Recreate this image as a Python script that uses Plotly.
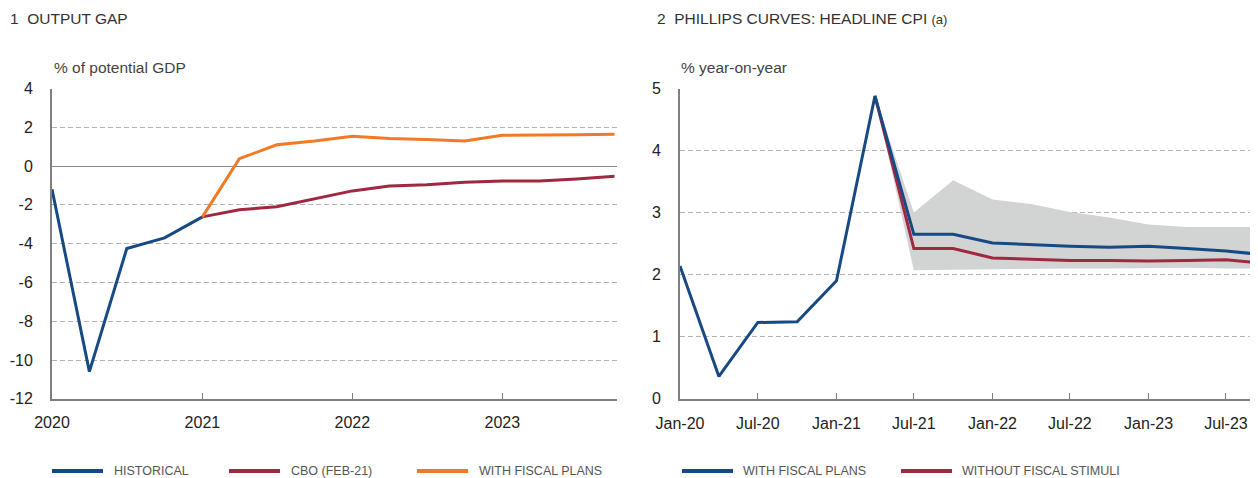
import plotly.graph_objects as go

# chart 1: output gap, quarterly
gap_hist_q = ["2020-01-01", "2020-04-01", "2020-07-01", "2020-10-01", "2021-01-01"]
gap_hist = [-1.2, -10.6, -4.25, -3.7, -2.62]

gap_proj_q = ["2021-01-01", "2021-04-01", "2021-07-01", "2021-10-01",
              "2022-01-01", "2022-04-01", "2022-07-01", "2022-10-01",
              "2023-01-01", "2023-04-01", "2023-07-01", "2023-10-01"]
gap_cbo = [-2.62, -2.25, -2.1, -1.68, -1.28, -1.03, -0.96, -0.84, -0.77, -0.77, -0.67, -0.53]
gap_fiscal = [-2.62, 0.38, 1.1, 1.29, 1.54, 1.42, 1.37, 1.29, 1.59, 1.59, 1.62, 1.64]

gap_ticks = [4, 2, 0, -2, -4, -6, -8, -10, -12]
gap_ticktext = ["4", "2", "0", "-2", "-4", "-6", "-8", "-10", "-12"]

# chart 2: headline CPI, quarterly
cpi_q = ["2020-01-01", "2020-04-01", "2020-07-01", "2020-10-01", "2021-01-01",
         "2021-04-01", "2021-07-01", "2021-10-01", "2022-01-01", "2022-04-01",
         "2022-07-01", "2022-10-01", "2023-01-01", "2023-04-01", "2023-07-01",
         "2023-10-01"]
cpi_fiscal = [2.14, 0.36, 1.23, 1.24, 1.9, 4.88, 2.65, 2.65, 2.51, 2.48,
              2.46, 2.44, 2.46, 2.42, 2.38, 2.32]
cpi_no_stim = [None, None, None, None, None, 4.88, 2.42, 2.42, 2.27, 2.25,
               2.23, 2.23, 2.22, 2.23, 2.24, 2.18]
band_hi = [None, None, None, None, None, 4.88, 3.0, 3.52, 3.21, 3.14,
           3.01, 2.92, 2.81, 2.77, 2.77, 2.77]
band_lo = [None, None, None, None, None, 4.88, 2.07, 2.08, 2.09, 2.1,
           2.1, 2.1, 2.11, 2.11, 2.1, 2.1]

BLUE = "#174a84"
RED = "#a0283f"
ORANGE = "#f07a26"
GREY_TXT = "#555555"
AXIS = "#7f7f7f"
GRID = "#b5b5b5"
FONT = "Liberation Sans"

# the page puts the chart 8px in from the top-left corner
OFF = 8
W, H = 1258 - OFF, 478 - OFF


def px(x):
    return (x - OFF) / W


def py(y):
    return 1 - (y - OFF) / H


fig = go.Figure()

fig.add_trace(go.Scatter(x=gap_hist_q, y=gap_hist, mode="lines", name="HISTORICAL",
                         line=dict(color=BLUE, width=3), xaxis="x", yaxis="y"))
fig.add_trace(go.Scatter(x=gap_proj_q, y=gap_cbo, mode="lines", name="CBO (FEB-21)",
                         line=dict(color=RED, width=3), xaxis="x", yaxis="y"))
fig.add_trace(go.Scatter(x=gap_proj_q, y=gap_fiscal, mode="lines", name="WITH FISCAL PLANS",
                         line=dict(color=ORANGE, width=3), xaxis="x", yaxis="y"))

fig.add_trace(go.Scatter(x=cpi_q, y=band_lo, mode="lines", line=dict(width=0, color="#d2d3d3"),
                         showlegend=False, xaxis="x2", yaxis="y2"))
fig.add_trace(go.Scatter(x=cpi_q, y=band_hi, mode="lines", line=dict(width=0, color="#d2d3d3"),
                         fill="tonexty", fillcolor="#d2d3d3", showlegend=False,
                         xaxis="x2", yaxis="y2"))
fig.add_trace(go.Scatter(x=cpi_q, y=cpi_no_stim, mode="lines", name="WITHOUT FISCAL STIMULI",
                         line=dict(color=RED, width=3), xaxis="x2", yaxis="y2"))
fig.add_trace(go.Scatter(x=cpi_q, y=cpi_fiscal, mode="lines", name="WITH FISCAL PLANS",
                         line=dict(color=BLUE, width=3), xaxis="x2", yaxis="y2"))

top, bottom = 88.5, 398.8
tickfont = dict(family=FONT, size=16, color="#222222")
dash = "5px,3px"

fig.update_layout(
    width=W, height=H,
    margin=dict(l=0, r=0, t=0, b=0, autoexpand=False),
    paper_bgcolor="white", plot_bgcolor="white",
    showlegend=False,
    font=dict(family=FONT, color=GREY_TXT),
    xaxis=dict(domain=[px(52), px(617)], type="date", automargin=False,
               range=["2020-01-01", "2023-10-07"],
               tickvals=["2020-01-01", "2021-01-01", "2022-01-01", "2023-01-01"],
               tickformat="%Y", ticks="inside", ticklen=6, tickcolor=AXIS,
               showline=True, linecolor=AXIS, linewidth=2, showgrid=False,
               zeroline=False, tickfont=tickfont, ticklabelstandoff=8),
    yaxis=dict(domain=[py(bottom), py(top)], range=[-12, 4], automargin=False,
               tickvals=gap_ticks, ticktext=gap_ticktext,
               showline=True, linecolor=AXIS, linewidth=2,
               showgrid=True, gridcolor=GRID, griddash=dash, gridwidth=1,
               zeroline=True, zerolinecolor="#888888", zerolinewidth=1.2,
               tickfont=tickfont, ticklabelstandoff=14),
    xaxis2=dict(domain=[px(680), 1.0], type="date", automargin=False,
                range=["2020-01-01", "2023-09-14"],
                dtick="M6", tick0="2020-01-01", tickformat="%b-%y",
                ticks="inside", ticklen=6, tickcolor=AXIS,
                showline=True, linecolor=AXIS, linewidth=2, showgrid=False,
                zeroline=False, tickfont=tickfont, ticklabelstandoff=9),
    yaxis2=dict(domain=[py(bottom), py(top)], range=[0, 5], dtick=1,
                anchor="x2", automargin=False,
                showline=True, linecolor=AXIS, linewidth=2,
                showgrid=True, gridcolor=GRID, griddash=dash, gridwidth=1,
                zeroline=False, tickfont=tickfont, ticklabelstandoff=14),
)

annos = [
    dict(x=px(8), y=py(18), text="1  OUTPUT GAP", size=15.5, color="#333333"),
    dict(x=px(655), y=py(18),
         text="2  PHILLIPS CURVES: HEADLINE CPI <span style='font-size:13px'>(a)</span>",
         size=15.5, color="#333333"),
    dict(x=px(52), y=py(67), text="% of potential GDP", size=15.5, color="#444444"),
    dict(x=px(679), y=py(67), text="% year-on-year", size=15.5, color="#444444"),
]
for a in annos:
    fig.add_annotation(xref="paper", yref="paper", x=a["x"], y=a["y"],
                       xanchor="left", yanchor="middle", showarrow=False,
                       text=a["text"], font=dict(family=FONT, size=a["size"], color=a["color"]))

# legend keys under each panel
legend_items = [
    (52, 112, BLUE, "HISTORICAL"),
    (229, 289, RED, "CBO (FEB-21)"),
    (417, 477, ORANGE, "WITH FISCAL PLANS"),
    (682, 741, BLUE, "WITH FISCAL PLANS"),
    (901, 960, RED, "WITHOUT FISCAL STIMULI"),
]
ly = 471
for x0, xt, col, label in legend_items:
    fig.add_shape(type="line", xref="paper", yref="paper",
                  x0=px(x0), x1=px(x0 + 51), y0=py(ly), y1=py(ly),
                  line=dict(color=col, width=4))
    fig.add_annotation(xref="paper", yref="paper", x=px(xt), y=py(ly),
                       xanchor="left", yanchor="middle", showarrow=False,
                       text=label, font=dict(family=FONT, size=12.5, color=GREY_TXT))

fig.write_html("out.html")
